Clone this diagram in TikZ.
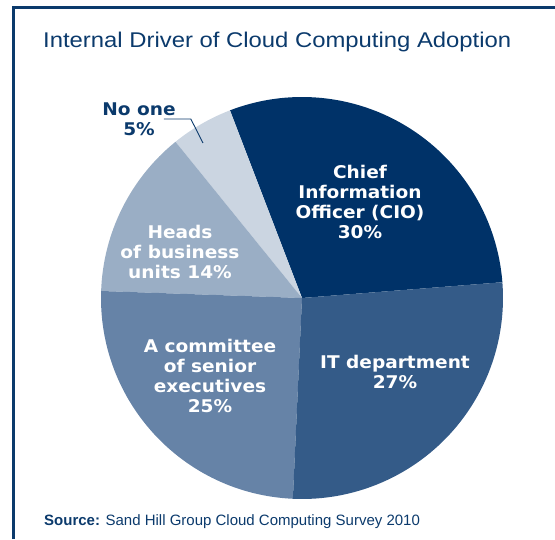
\documentclass[tikz,border=0pt]{standalone}
\usepackage{fontspec}
\setmainfont{Liberation Sans}
\newfontfamily\titlefont{Liberation Sans}[FakeStretch=1.12]
\newfontfamily\slicefont{DejaVu Sans}[FakeStretch=1.06]
\usetikzlibrary{positioning,calc}
\definecolor{navy}{HTML}{0B3A6C}
\definecolor{cioblue}{HTML}{003268}
\definecolor{itblue}{HTML}{345B88}
\definecolor{cmtblue}{HTML}{6683A7}
\definecolor{headblue}{HTML}{9AAEC5}
\definecolor{noneblue}{HTML}{CBD5E1}
\tikzset{
  slicelabel/.style={text=white, font=\slicefont\bfseries\fontsize{17.5}{20}\selectfont, align=center, inner sep=0pt},
  outlabel/.style={slicelabel, text=navy},
  frameline/.style={draw=navy, line width=3pt},
  leader/.style={draw=navy, line width=0.9pt}
}
\tikzstyle{titletext}=[text=navy, font=\titlefont\fontsize{21.3}{24}\selectfont, inner sep=0pt, anchor=base west]
\tikzstyle{sourcetext}=[text=navy, font=\fontsize{15}{18}\selectfont, inner sep=0pt, anchor=base west]
\newcommand{\pieradius}{201}
\newcommand{\pieslice}[3]{\fill[#3] (ctr) -- ++(#1:\pieradius) arc[start angle=#1, end angle=#2, radius=\pieradius] -- cycle;}

\begin{document}
\begin{tikzpicture}[x=1pt,y=1pt]
  \useasboundingbox (0,0) rectangle (555,539);

  % Frame and headings
  \draw[frameline] (13.5,0) |- (556,531.5);
  \node[titletext] (title) at (43,491) {Internal Driver of Cloud Computing Adoption};
  \node[sourcetext] (source) at (44,14) {\textbf{Source:} Sand Hill Group Cloud Computing Survey 2010};

  % Draw pie slices
  \coordinate (ctr) at (302,241);
  \pieslice{4.5}{111}{cioblue}
  \pieslice{111}{129}{noneblue}
  \pieslice{129}{178}{headblue}
  \pieslice{178}{267.4}{cmtblue}
  \pieslice{267.4}{364.5}{itblue}

  % Slice labels
  \node[slicelabel] (cio) at (360,337) {Chief\\Information\\Officer (CIO)\\30\%};
  \node[slicelabel] (itdept) at (395,167) {IT department\\27\%};
  \node[slicelabel] (committee) at (210,163) {A committee\\of senior\\executives\\25\%};
  \node[slicelabel] (heads) at (180,287) {Heads\\of business\\units 14\%};
  \node[outlabel] (noone) at (139,420) {No one\\5\%};

  % Leader for the small slice
  \coordinate (leadstart) at ([xshift=-12pt]noone.east);
  \coordinate (leadtip) at (203,396);
  \draw[leader] (leadstart) -- ++(27,0) -- (leadtip);
\end{tikzpicture}
\end{document}
